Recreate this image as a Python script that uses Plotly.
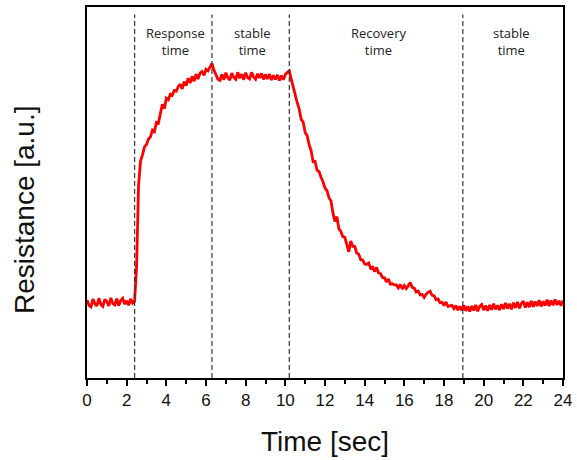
import plotly.graph_objects as go

# Resistance (a.u.) sampled every 0.1 s from 0 to 24 s
baseline_start = [21.0, 19.6, 19.2, 21.3, 20.0, 19.4, 21.5, 19.8, 19.3, 21.2,
                  20.6, 19.4, 21.6, 20.1, 19.7, 21.4, 19.5, 20.9, 21.5, 19.9,
                  20.8, 19.6, 21.3, 20.2, 20.7]
response = [30.0, 52.0, 58.5, 60.2, 62.3, 62.9, 64.4, 65.0, 66.8, 66.4,
            68.9, 68.7, 71.5, 73.8, 72.6, 75.4, 75.0, 76.5, 76.2, 77.5,
            77.3, 78.5, 79.2, 77.9, 79.9, 78.8, 80.8, 79.5, 81.3, 80.0,
            81.9, 80.6, 82.2, 82.6, 81.6, 83.2, 82.8, 84.0, 84.8]
plateau = [83.0, 81.6, 80.5, 80.2, 81.8, 80.4, 82.3, 80.9, 80.3, 82.2,
           81.0, 80.5, 82.4, 80.8, 81.9, 80.4, 82.3, 81.0, 80.6, 82.4,
           81.1, 80.5, 82.0, 80.9, 82.1, 80.5, 81.8, 80.6, 81.9, 80.3,
           81.6, 80.5, 81.7, 80.2, 81.5, 80.4, 81.8, 82.4, 82.8]
recovery = [80.5, 78.0, 76.3, 74.2, 72.5, 69.7, 69.0, 66.2, 65.3, 62.9,
            61.3, 58.3, 58.4, 56.0, 55.6, 54.1, 52.9, 51.2, 50.5, 48.6,
            47.8, 44.5, 42.2, 43.5, 40.2, 39.5, 38.1, 37.9, 36.2, 34.0,
            36.9, 35.5, 35.5, 33.7, 33.4, 31.9, 31.8, 30.7, 30.6, 31.0,
            29.6, 29.9, 28.7, 29.8, 28.3, 28.1, 27.1, 27.0, 25.9, 26.7,
            25.3, 25.4, 25.1, 25.1, 24.3, 25.2, 24.0, 24.9, 24.1, 25.1,
            25.7, 24.4, 24.2, 23.2, 23.4, 22.4, 22.5, 21.7, 22.6, 23.1,
            23.4, 22.3, 22.2, 21.1, 21.3, 20.3, 20.4, 19.5, 20.5, 19.3,
            19.5, 19.6, 18.7, 19.5, 18.3, 19.3, 18.2]
baseline_end = [19.6, 18.1, 19.3, 17.9, 19.4, 18.2, 19.7, 18.0, 19.3, 19.8,
                18.3, 19.5, 18.1, 19.7, 18.4, 20.0, 18.5, 19.6, 18.3, 19.9,
                18.6, 20.2, 18.7, 20.0, 18.5, 20.3, 18.9, 20.5, 18.8, 20.1,
                20.7, 19.0, 20.4, 19.1, 20.8, 19.2, 20.6, 19.4, 21.0, 19.3,
                20.7, 19.5, 21.1, 19.4, 20.9, 19.6, 21.2, 19.7, 20.8, 19.5,
                20.9]

resistance = baseline_start + response + plateau + recovery + baseline_end
time_s = [round(0.1 * i, 1) for i in range(len(resistance))]

phase_bounds = [2.4, 6.3, 10.2, 18.95]
phase_labels = ["Response<br>time", "stable<br>time", "Recovery<br>time", "stable<br>time"]
phase_label_x = [4.45, 8.35, 14.7, 21.4]

tick_vals = list(range(0, 25, 2))

fig = go.Figure()
fig.add_trace(go.Scatter(x=time_s, y=resistance, mode="lines",
                         line=dict(color="#ff0000", width=2.8), showlegend=False))

for xb in phase_bounds:
    fig.add_shape(type="line", xref="x", yref="paper", x0=xb, x1=xb, y0=0, y1=0.98,
                  line=dict(color="#333333", width=1.2, dash="5px,3px"))

for lx, lt in zip(phase_label_x, phase_labels):
    fig.add_annotation(x=lx, y=0.96, xref="x", yref="paper", text=lt, showarrow=False,
                       xanchor="center", yanchor="top",
                       font=dict(family="Open Sans", size=13, color="#222222"))

fig.add_annotation(x=-0.13, y=0.453, xref="paper", yref="paper", text="Resistance [a.u.]",
                   textangle=-90, showarrow=False, xanchor="center", yanchor="middle",
                   font=dict(family="Liberation Sans", size=28, color="#111111"))
fig.add_annotation(x=0.5, y=-0.172, xref="paper", yref="paper", text="Time [sec]",
                   showarrow=False, xanchor="center", yanchor="middle",
                   font=dict(family="Liberation Sans", size=28, color="#111111"))

fig.update_layout(
    width=577, height=460,
    margin=dict(l=87, r=12, t=5, b=82),
    paper_bgcolor="white", plot_bgcolor="white",
    hovermode=False,
    xaxis=dict(range=[0, 24], tickvals=tick_vals, ticks="outside", ticklen=6,
               tickwidth=1.5, tickcolor="black", showline=True, linecolor="black",
               linewidth=2, mirror=True, showgrid=False, zeroline=False,
               tickfont=dict(family="Liberation Sans", size=17, color="#111111"),
               minor=dict(dtick=1, tick0=0, ticks="outside", ticklen=4,
                          tickwidth=1.5, tickcolor="black")),
    yaxis=dict(range=[0, 100], showticklabels=False, ticks="", showline=True,
               linecolor="black", linewidth=2, mirror=True, showgrid=False,
               zeroline=False),
)

fig.write_html("out.html", config={"displayModeBar": False},
               post_script="document.body.style.margin='0';document.body.style.overflow='hidden';")
